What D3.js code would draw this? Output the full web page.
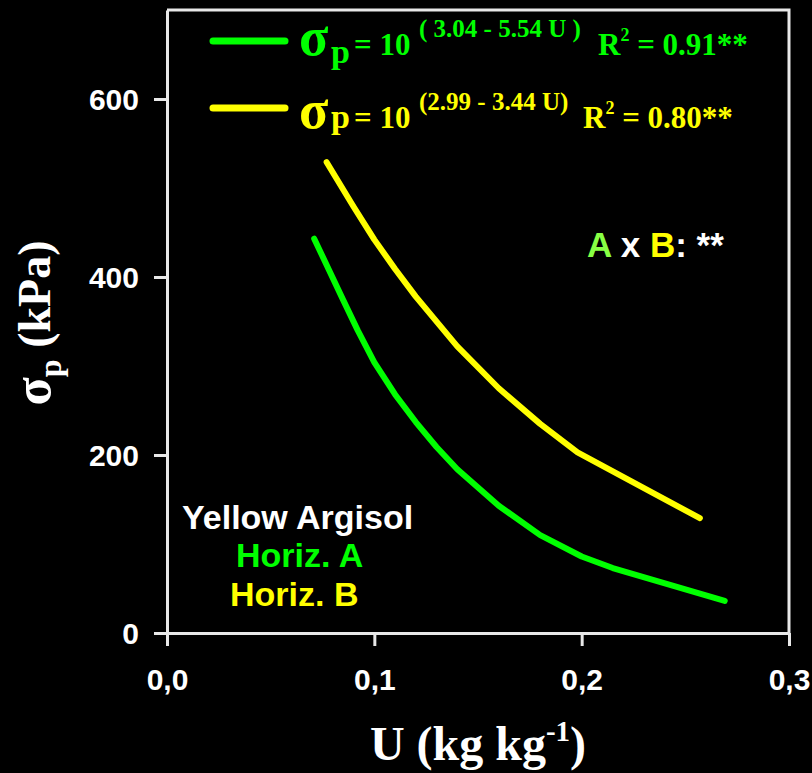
<!DOCTYPE html>
<html>
<head>
<meta charset="utf-8">
<script src="https://cdn.jsdelivr.net/npm/d3@7"></script>
<style>
  html, body { margin: 0; padding: 0; background: #000; }
  svg { display: block; }
</style>
</head>
<body>
<svg id="chart" width="812" height="773"></svg>
<script>
// Water content U (kg kg-1) and preconsolidation pressure σp (kPa)
const horizAU = [0.071, 0.085, 0.092, 0.100, 0.110, 0.120, 0.130, 0.140, 0.160, 0.180, 0.200, 0.215, 0.269];
const horizASigma = [443, 374, 340, 304, 268, 237, 209, 184, 143, 110, 86, 73, 36];
const horizBU = [0.077, 0.090, 0.100, 0.110, 0.120, 0.140, 0.160, 0.180, 0.198, 0.257];
const horizBSigma = [529, 479, 442, 409, 378, 322, 275, 235, 203, 129];

const xTicks = [0, 0.1, 0.2, 0.3];
const yTicks = [0, 200, 400, 600];

const GREEN = "#00ff00";
const YELLOW = "#ffff00";
const AXIS = "#e8e8e8";
const SANS = "'Liberation Sans', Arial, sans-serif";
const SERIF = "'Liberation Serif', 'Times New Roman', serif";

const svg = d3.select("#chart");
svg.append("rect").attr("width", 812).attr("height", 773).attr("fill", "#000");

const x = d3.scaleLinear().domain([0, 0.3]).range([167, 789]);
const y = d3.scaleLinear().domain([0, 700]).range([633, 10]);

// frame (top and right)
svg.append("path")
  .attr("d", `M${x(0)},${y(700)}H${x(0.3)}V${y(0)}`)
  .attr("fill", "none").attr("stroke", AXIS).attr("stroke-width", 3);

// axes
const fmtComma = d => d3.format(".1f")(d).replace(".", ",");
const gx = svg.append("g").attr("transform", `translate(0,${y(0)})`)
  .call(d3.axisBottom(x).tickValues(xTicks).tickFormat(fmtComma).tickSize(13).tickSizeOuter(0));
const gy = svg.append("g").attr("transform", `translate(${x(0)},0)`)
  .call(d3.axisLeft(y).tickValues(yTicks).tickSize(13).tickSizeOuter(0));

[gx, gy].forEach(g => {
  g.select(".domain").attr("stroke", AXIS).attr("stroke-width", 3);
  g.selectAll(".tick line").attr("stroke", AXIS).attr("stroke-width", 3);
  g.selectAll(".tick text")
    .attr("fill", "#fff").attr("font-family", SANS).attr("font-weight", "bold")
    .attr("font-size", 30);
});
gx.selectAll(".tick text").attr("y", 57).attr("dy", 0);
gy.selectAll(".tick text").attr("x", -28).attr("dy", "0.36em");

// curves
const line = d3.line().x(d => x(d[0])).y(d => y(d[1]));
const seriesA = horizAU.map((u, i) => [u, horizASigma[i]]);
const seriesB = horizBU.map((u, i) => [u, horizBSigma[i]]);

svg.append("path").datum(seriesB).attr("d", line)
  .attr("fill", "none").attr("stroke", YELLOW).attr("stroke-width", 6)
  .attr("stroke-linecap", "round").attr("stroke-linejoin", "round");
svg.append("path").datum(seriesA).attr("d", line)
  .attr("fill", "none").attr("stroke", GREEN).attr("stroke-width", 6)
  .attr("stroke-linecap", "round").attr("stroke-linejoin", "round");

// axis titles
const xt = svg.append("text").attr("x", 478).attr("y", 760)
  .attr("text-anchor", "middle").attr("fill", "#fff")
  .attr("font-family", SERIF).attr("font-weight", "bold").attr("font-size", 48);
xt.append("tspan").text("U (kg kg");
xt.append("tspan").attr("font-size", 29).attr("dy", -19).text("-1");
xt.append("tspan").attr("dy", 19).text(")");

const yt = svg.append("text").attr("transform", "translate(50,323) rotate(-90)")
  .attr("text-anchor", "middle").attr("fill", "#fff")
  .attr("font-family", SERIF).attr("font-weight", "bold").attr("font-size", 46);
yt.append("tspan").attr("font-size", 52).text("σ");
yt.append("tspan").attr("font-size", 32).attr("dy", 11).text("p");
yt.append("tspan").attr("dy", -11).text(" (kPa)");

// legend
function legendRow(yLine, color, base, pSub, expo, r2x, r2) {
  svg.append("line").attr("x1", 213).attr("x2", 285).attr("y1", yLine).attr("y2", yLine)
    .attr("stroke", color).attr("stroke-width", 7).attr("stroke-linecap", "round");
  const g = svg.append("g").attr("fill", color).attr("font-family", SERIF).attr("font-weight", "bold");
  g.append("text").attr("x", 299).attr("y", base).attr("font-size", 54).text("σ");
  g.append("text").attr("x", 331).attr("y", base + pSub).attr("font-size", 34).text("p");
  g.append("text").attr("x", 354).attr("y", base).attr("font-size", 31).text("= 10");
  g.append("text").attr("x", 419).attr("y", base - 18).attr("font-size", 25).attr("xml:space", "preserve").text(expo);
  const t = g.append("text").attr("x", r2x).attr("y", base).attr("font-size", 31);
  t.append("tspan").text("R");
  t.append("tspan").attr("font-size", 18).attr("dy", -14).text("2");
  t.append("tspan").attr("dy", 14).text(" = " + r2);
}
legendRow(41, GREEN, 55, 8, "( 3.04 - 5.54 U )", 598, "0.91**");
legendRow(108, YELLOW, 128, 0, "(2.99 - 3.44 U)", 583, "0.80**");

// interaction note
const ab = svg.append("text").attr("x", 587).attr("y", 257)
  .attr("font-family", SANS).attr("font-weight", "bold").attr("font-size", 35);
ab.append("tspan").attr("fill", "#88ff44").text("A");
ab.append("tspan").attr("fill", "#fff").text(" x ");
ab.append("tspan").attr("fill", YELLOW).text("B");
ab.append("tspan").attr("fill", "#fff").text(": **");

// soil labels
const lab = svg.append("g").attr("font-family", SANS).attr("font-weight", "bold").attr("font-size", 34);
lab.append("text").attr("x", 182).attr("y", 529).attr("fill", "#fff").text("Yellow Argisol");
lab.append("text").attr("x", 236).attr("y", 567).attr("fill", GREEN).text("Horiz. A");
lab.append("text").attr("x", 230).attr("y", 606).attr("fill", YELLOW).text("Horiz. B");
</script>
</body>
</html>
